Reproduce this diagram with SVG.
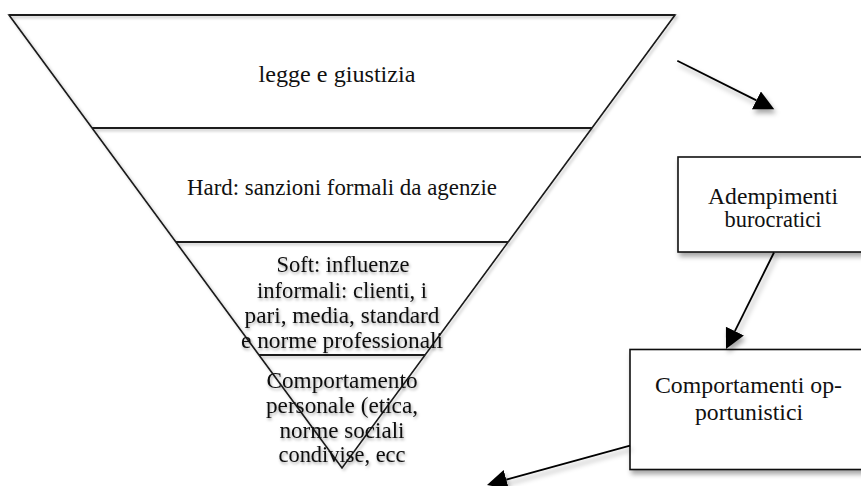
<svg xmlns="http://www.w3.org/2000/svg" width="861" height="486" viewBox="0 0 861 486">
  <style>
    .edge { fill: none; stroke: #1a1a1a; stroke-width: 1.6; }
    .sep { fill: none; stroke: #1a1a1a; stroke-width: 2; }
    .ptext { font-family: "Liberation Serif", "Times New Roman", serif; font-size: 22.5px; fill: #111; text-anchor: middle; }
    .btext { font-family: "Liberation Serif", "Times New Roman", serif; font-size: 23px; fill: #111; text-anchor: middle; }
    .box { fill: #ffffff; stroke: #111; stroke-width: 1.6; }
    .conn { fill: none; stroke: #000; stroke-width: 1.8; }
  </style>
  <defs>
    <filter id="shadow" x="-20%" y="-20%" width="140%" height="160%">
      <feDropShadow dx="2" dy="4" stdDeviation="2.5" flood-color="#000" flood-opacity="0.35"/>
    </filter>
    <filter id="edgeShadow" x="-10%" y="-10%" width="120%" height="120%">
      <feDropShadow dx="2" dy="2" stdDeviation="1.5" flood-color="#000" flood-opacity="0.25"/>
    </filter>
    <filter id="textShadow" x="-10%" y="-20%" width="120%" height="150%">
      <feDropShadow dx="1" dy="2" stdDeviation="1.5" flood-color="#000" flood-opacity="0.35"/>
    </filter>
    <marker id="arrow" markerUnits="userSpaceOnUse" markerWidth="22" markerHeight="22" refX="0" refY="10" orient="auto">
      <path d="M0,0 L20,10 L0,20 z" fill="#000"/>
    </marker>
  </defs>
  <rect x="0" y="0" width="861" height="486" fill="#ffffff"/>

  <g id="pyramid" filter="url(#edgeShadow)">
    <polygon points="9,15 675,15 342,468" fill="#ffffff" class="edge"/>
    <line class="sep" x1="9" y1="15" x2="675" y2="15"/>
    <line class="sep" x1="92" y1="128" x2="592" y2="128"/>
    <line class="sep" x1="176" y1="242" x2="508" y2="242"/>
    <line class="sep" x1="259" y1="355" x2="425" y2="355"/>
  </g>

  <g id="level-legge">
    <text class="ptext" x="337" y="82" textLength="157" lengthAdjust="spacingAndGlyphs">legge e giustizia</text>
  </g>
  <g id="level-hard">
    <text class="ptext" x="342" y="195" textLength="310" lengthAdjust="spacingAndGlyphs">Hard: sanzioni formali da agenzie</text>
  </g>
  <g id="level-soft" filter="url(#textShadow)">
    <text class="ptext" x="343" y="272" textLength="133" lengthAdjust="spacingAndGlyphs">Soft: influenze</text>
    <text class="ptext" x="342" y="298" textLength="170" lengthAdjust="spacingAndGlyphs">informali: clienti, i</text>
    <text class="ptext" x="342" y="323" textLength="195" lengthAdjust="spacingAndGlyphs">pari, media, standard</text>
    <text class="ptext" x="342" y="348" textLength="202" lengthAdjust="spacingAndGlyphs">e norme professionali</text>
  </g>
  <g id="level-personale" filter="url(#textShadow)">
    <text class="ptext" x="342" y="388" textLength="151" lengthAdjust="spacingAndGlyphs">Comportamento</text>
    <text class="ptext" x="342" y="413" textLength="152" lengthAdjust="spacingAndGlyphs">personale (etica,</text>
    <text class="ptext" x="342" y="438" textLength="125" lengthAdjust="spacingAndGlyphs">norme sociali</text>
    <text class="ptext" x="342" y="462" textLength="127" lengthAdjust="spacingAndGlyphs">condivise, ecc</text>
  </g>

  <g id="box-adempimenti">
    <rect class="box" x="678" y="157" width="190" height="95" filter="url(#shadow)"/>
    <text class="btext" x="773" y="204" textLength="130" lengthAdjust="spacingAndGlyphs">Adempimenti</text>
    <text class="btext" x="773" y="227" textLength="97" lengthAdjust="spacingAndGlyphs">burocratici</text>
  </g>

  <g id="box-comportamenti">
    <rect class="box" x="630" y="349.5" width="238" height="120" filter="url(#shadow)"/>
    <text class="btext" x="748.5" y="393" textLength="187" lengthAdjust="spacingAndGlyphs">Comportamenti op-</text>
    <text class="btext" x="749" y="420" textLength="108" lengthAdjust="spacingAndGlyphs">portunistici</text>
  </g>

  <g id="connectors" filter="url(#shadow)">
    <path class="conn" d="M677.3,60.7 L756.4,100.4" marker-end="url(#arrow)"/>
    <path class="conn" d="M774,252.5 L734.9,331.1" marker-end="url(#arrow)"/>
    <path class="conn" d="M630,445.7 L506.3,479.7" marker-end="url(#arrow)"/>
  </g>
</svg>
